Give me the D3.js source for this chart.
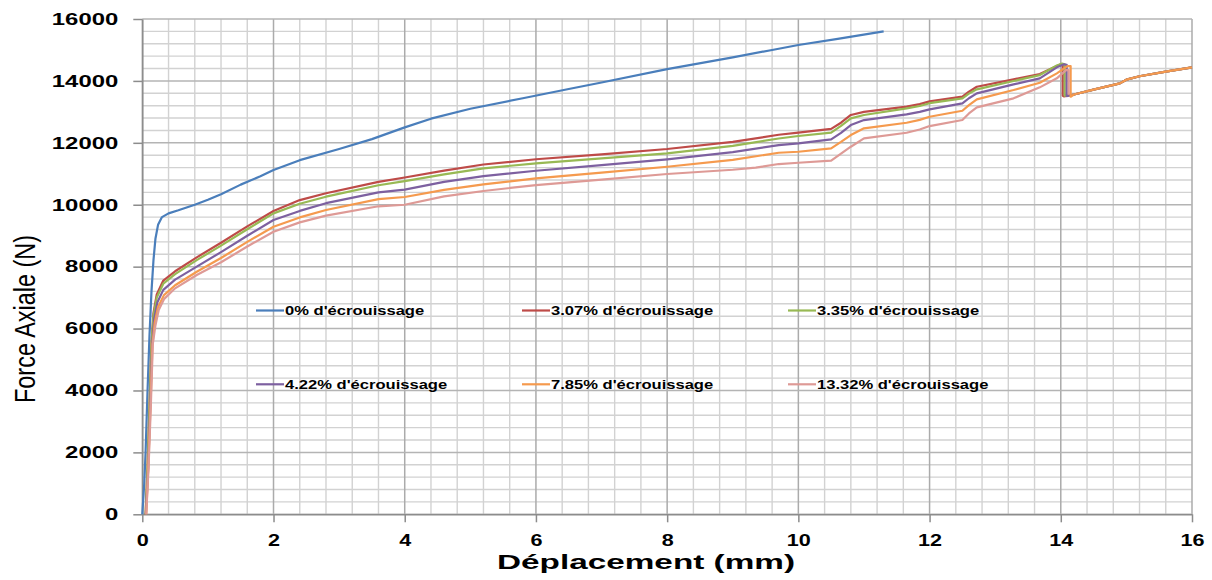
<!DOCTYPE html>
<html>
<head>
<meta charset="utf-8">
<script src="https://cdn.jsdelivr.net/npm/d3@7"></script>
<style>
html,body{margin:0;padding:0;background:#fff;}
svg{display:block;}
text{font-family:"Liberation Sans",Arial,sans-serif;fill:#000;}
</style>
</head>
<body>
<svg id="chart" width="1212" height="580"></svg>
<script>
// ---------- data ----------
const xTickValues = [0, 2, 4, 6, 8, 10, 12, 14, 16];
const yTickValues = [0, 2000, 4000, 6000, 8000, 10000, 12000, 14000, 16000];
const seriesNames = ["0% d'écrouissage", "3.07% d'écrouissage", "3.35% d'écrouissage",
                     "4.22% d'écrouissage", "7.85% d'écrouissage", "13.32% d'écrouissage"];
const seriesColors = ["#4A7EBB", "#BE4B48", "#98B954", "#7D60A0", "#F59A4E", "#DE9A96"];

const s0 = [[0,0],[0.03,1000],[0.05,2000],[0.08,4000],[0.11,5800],[0.14,7200],[0.17,8200],[0.2,8900],
  [0.24,9350],[0.3,9600],[0.4,9720],[0.55,9820],[0.8,10000],[1.0,10160],[1.2,10340],[1.5,10650],
  [1.8,10920],[2.0,11120],[2.4,11440],[3.0,11800],[3.5,12120],[4.0,12500],[4.4,12780],[5.0,13100],
  [5.8,13440],[6.5,13740],[7.0,13950],[8.0,14380],[9.0,14760],[9.6,15000],[10.0,15160],[10.6,15360],[11.3,15600]];

const s307 = [[0.05,0],[0.08,1500],[0.11,3500],[0.14,5500],[0.17,6500],[0.22,7100],[0.32,7550],[0.5,7850],
  [0.83,8300],[1.2,8770],[1.6,9300],[2.0,9800],[2.4,10150],[2.8,10370],[3.6,10740],[4.0,10880],[4.6,11100],
  [5.2,11300],[6.0,11470],[7.0,11630],[8.0,11800],[9.0,12030],[9.7,12260],[10.0,12330],[10.5,12450],
  [10.65,12650],[10.8,12900],[11.0,13000],[11.65,13170],[11.85,13250],[12.0,13340],[12.5,13490],[12.6,13650],
  [12.72,13810],[13.28,14050],[13.68,14220],[13.94,14480],[14.0,14540],[14.03,14540],[14.03,13520]];

const s335 = [[0.05,0],[0.08,1500],[0.11,3500],[0.14,5500],[0.17,6400],[0.22,7000],[0.32,7450],[0.5,7760],
  [0.83,8210],[1.2,8680],[1.6,9210],[2.0,9720],[2.4,10030],[2.8,10260],[3.6,10630],[4.0,10760],[4.6,10980],
  [5.2,11176],[6.0,11337],[7.0,11500],[8.0,11660],[9.0,11900],[9.7,12140],[10.0,12220],[10.5,12330],
  [10.65,12550],[10.8,12790],[11.0,12900],[11.65,13114],[11.85,13190],[12.0,13280],[12.5,13437],[12.6,13590],
  [12.72,13728],[13.28,13996],[13.68,14189],[13.94,14500],[14.02,14560],[14.06,14540],[14.06,13520]];

const s422 = [[0.055,0],[0.09,1500],[0.12,3500],[0.15,5500],[0.18,6300],[0.23,6850],[0.32,7250],[0.5,7580],
  [0.83,8000],[1.2,8470],[1.6,9000],[2.0,9506],[2.4,9800],[2.8,10050],[3.6,10400],[4.0,10490],[4.6,10740],
  [5.2,10927],[6.0,11098],[7.0,11280],[8.0,11467],[9.0,11700],[9.7,11928],[10.0,11983],[10.5,12113],
  [10.65,12320],[10.8,12574],[11.0,12736],[11.65,12920],[11.85,13000],[12.0,13082],[12.5,13275],[12.6,13440],
  [12.72,13598],[13.28,13889],[13.68,14083],[13.94,14438],[14.05,14540],[14.09,14520],[14.09,13510]];

const s785 = [[0.06,0],[0.09,1500],[0.125,3500],[0.155,5500],[0.19,6200],[0.24,6700],[0.33,7080],[0.5,7400],
  [0.83,7836],[1.2,8280],[1.6,8800],[2.0,9290],[2.4,9590],[2.8,9830],[3.6,10180],[4.0,10250],[4.6,10480],
  [5.2,10659],[6.0,10853],[7.0,11040],[8.0,11228],[9.0,11450],[9.7,11680],[10.0,11712],[10.5,11822],
  [10.65,12030],[10.8,12251],[11.0,12468],[11.65,12649],[11.85,12740],[12.0,12843],[12.5,13037],[12.6,13220],
  [12.72,13405],[13.28,13705],[13.68,13941],[13.94,14244],[14.1,14480],[14.15,14480],[14.15,13489]];

const s1332 = [[0.06,0],[0.095,1500],[0.13,3500],[0.16,5500],[0.2,6100],[0.25,6600],[0.33,6950],[0.5,7300],
  [0.83,7729],[1.2,8140],[1.6,8650],[2.0,9128],[2.4,9430],[2.8,9650],[3.6,9950],[4.0,10000],[4.6,10270],
  [5.2,10443],[6.0,10636],[7.0,10810],[8.0,10992],[9.0,11130],[9.35,11200],[9.7,11315],[10.0,11357],[10.5,11422],
  [10.65,11650],[10.8,11874],[11.0,12144],[11.65,12326],[11.85,12430],[12.0,12542],[12.5,12736],[12.6,12950],
  [12.72,13146],[13.28,13437],[13.68,13792],[13.94,14083],[14.08,14350],[14.12,14350],[14.12,13550]];

// common path followed by the hardened specimens after the load drop
const afterDrop = [[14.05,13500],[14.2,13560],[14.5,13720],[14.9,13920],[15.0,14040],[15.2,14150],[15.6,14300],[16.0,14440]];

// ---------- build ----------
function withTail(arr){
  const lastX = arr[arr.length-1][0];
  return arr.concat(afterDrop.filter(d => d[0] > lastX + 0.001));
}
const seriesData = [s0, withTail(s307), withTail(s335), withTail(s422), withTail(s785), s1332];

const svg = d3.select("#chart");
const x = d3.scaleLinear().domain([0,16]).range([142.3,1192]);
const y = d3.scaleLinear().domain([0,16000]).range([514.3,19]);

// grid
const grid = svg.append("g");
const minorX = d3.range(0,41).map(i => i*0.4).filter(v => Math.abs(v/2 - Math.round(v/2)) > 1e-6);
const minorY = d3.range(0,41).map(i => i*400).filter(v => v % 2000 !== 0);
grid.selectAll("line.mx").data(minorX).join("line")
  .attr("x1", d=>x(d)).attr("x2", d=>x(d)).attr("y1", y(0)).attr("y2", y(16000))
  .attr("stroke", "#d2d2d2").attr("stroke-width", 1.4);
grid.selectAll("line.my").data(minorY).join("line")
  .attr("x1", x(0)).attr("x2", x(16)).attr("y1", d=>y(d)).attr("y2", d=>y(d))
  .attr("stroke", "#d2d2d2").attr("stroke-width", 1.4);
grid.selectAll("line.Mx").data(xTickValues).join("line")
  .attr("x1", d=>x(d)).attr("x2", d=>x(d)).attr("y1", y(0)).attr("y2", y(16000))
  .attr("stroke", "#ababab").attr("stroke-width", 1.5);
grid.selectAll("line.My").data(yTickValues).join("line")
  .attr("x1", x(0)).attr("x2", x(16)).attr("y1", d=>y(d)).attr("y2", d=>y(d))
  .attr("stroke", "#b4b4b4").attr("stroke-width", 1.5);

// axes
function stretchTexts(sel, sx){
  sel.each(function(){
    const t = d3.select(this);
    const tx = +t.attr("x") || 0, ty = +t.attr("y") || 0;
    t.attr("transform", `translate(${tx},${ty}) scale(${sx},1)`).attr("x",0).attr("y",0);
  });
}
const yAxis = svg.append("g").attr("transform", `translate(${x(0)},0)`)
  .call(d3.axisLeft(y).tickValues(yTickValues).tickFormat(d3.format("d"))
    .tickSize(9).tickPadding(15).tickSizeOuter(0));
yAxis.select(".domain").attr("stroke", "#8c8c8c").attr("stroke-width", 1.5);
yAxis.selectAll(".tick line").attr("stroke", "#8c8c8c").attr("stroke-width", 1.5);
yAxis.selectAll("text").attr("font-size", 16.5).attr("font-weight", "bold")
  .attr("font-family", '"Liberation Sans",Arial,sans-serif').attr("fill", "#000");
stretchTexts(yAxis.selectAll("text"), 1.45);

const xAxis = svg.append("g").attr("transform", `translate(0,${y(0)})`)
  .call(d3.axisBottom(x).tickValues(xTickValues).tickFormat(d3.format("d"))
    .tickSize(8).tickPadding(12).tickSizeOuter(0));
xAxis.select(".domain").attr("stroke", "#8c8c8c").attr("stroke-width", 1.5);
xAxis.selectAll(".tick line").attr("stroke", "#8c8c8c").attr("stroke-width", 1.5);
xAxis.selectAll("text").attr("font-size", 16).attr("font-weight", "bold")
  .attr("font-family", '"Liberation Sans",Arial,sans-serif').attr("fill", "#000");
stretchTexts(xAxis.selectAll("text"), 1.35);

// lines
const line = d3.line().x(d => x(d[0])).y(d => y(d[1]));
svg.append("g").selectAll("path").data(seriesData).join("path")
  .attr("d", line).attr("fill", "none")
  .attr("stroke", (d,i) => seriesColors[i]).attr("stroke-width", 2.2)
  .attr("stroke-linejoin", "round");

// legend
const legCols = [256, 522, 788];
const legRows = [310.5, 384.3];
const leg = svg.append("g");
seriesNames.forEach((name, i) => {
  const lx = legCols[i % 3], ly = legRows[Math.floor(i / 3)];
  leg.append("line").attr("x1", lx).attr("x2", lx + 28).attr("y1", ly).attr("y2", ly)
    .attr("stroke", seriesColors[i]).attr("stroke-width", 2.2);
  leg.append("text").attr("transform", `translate(${lx + 29},${ly}) scale(1.38,1)`)
    .attr("dy", "0.35em").attr("font-size", 12).attr("font-weight", "bold").text(name);
});

// axis titles
svg.append("text").attr("transform", "translate(646,568.5)")
  .attr("text-anchor", "middle").attr("font-size", 20).attr("font-weight", "bold")
  .attr("textLength", 298).attr("lengthAdjust", "spacingAndGlyphs")
  .text("Déplacement (mm)");
svg.append("text").attr("transform", "translate(35,319) scale(1.26,1) rotate(-90)")
  .attr("text-anchor", "middle").attr("font-size", 23.5)
  .attr("textLength", 168).attr("lengthAdjust", "spacingAndGlyphs")
  .text("Force Axiale (N)");
</script>
</body>
</html>
